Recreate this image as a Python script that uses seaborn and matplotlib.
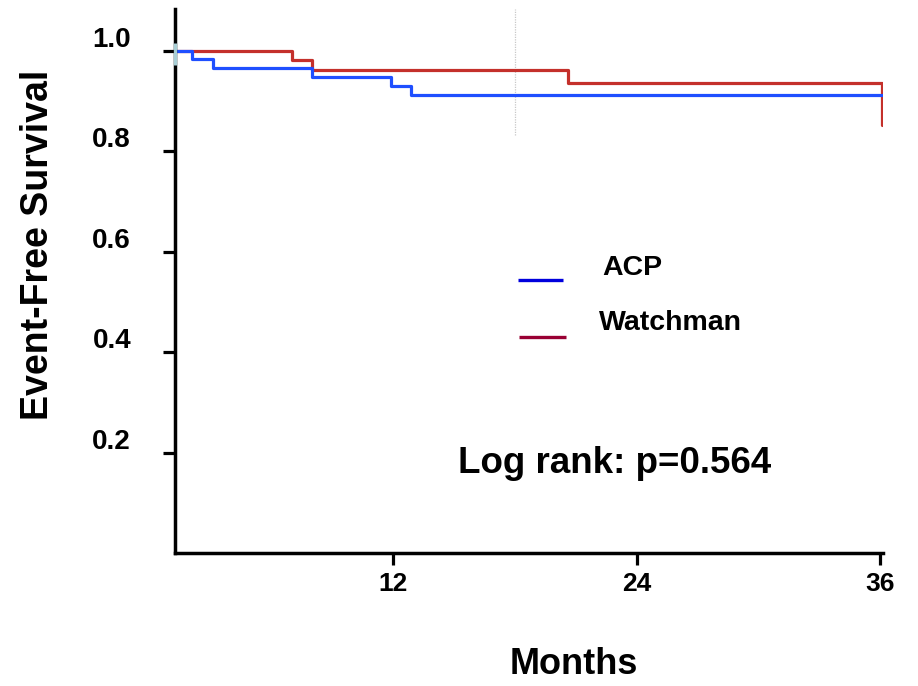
import numpy as np
import pandas as pd
import matplotlib
matplotlib.use("Agg")
import matplotlib.pyplot as plt
from matplotlib.transforms import ScaledTranslation
import seaborn as sns

# ---- data ----
acp_months = [0, 2.1, 3.1, 8.0, 11.9, 12.9, 36.1]
acp_surv = [1.0, 0.983, 0.965, 0.948, 0.930, 0.912, 0.912]
wm_months = [0, 7.0, 8.0, 20.6, 36.1, 36.1]
wm_surv = [1.0, 0.981, 0.961, 0.935, 0.935, 0.852]
groups = ["ACP", "Watchman"]
x_ticks = [12, 24, 36]
x_tick_labels = ["12", "24", "36"]
y_ticks = [0.2, 0.4, 0.6, 0.8, 1.0]
y_tick_labels = ["0.2", "0.4", "0.6", "0.8", "1.0"]
ref_month = 18
p_text = "Log rank: p=0.564"

df = pd.concat([
    pd.DataFrame({"month": acp_months, "survival": acp_surv, "group": "ACP"}),
    pd.DataFrame({"month": wm_months, "survival": wm_surv, "group": "Watchman"}),
], ignore_index=True)

sns.set_style("ticks")
plt.rcParams["font.family"] = ["Liberation Sans", "DejaVu Sans"]
plt.rcParams["font.weight"] = "bold"
plt.rcParams["text.color"] = "black"
plt.rcParams["axes.labelcolor"] = "black"
plt.rcParams["xtick.color"] = "black"
plt.rcParams["ytick.color"] = "black"
plt.rcParams["xtick.labelcolor"] = "black"
plt.rcParams["ytick.labelcolor"] = "black"

W, H = 918, 686
fig = plt.figure(figsize=(W / 100, H / 100), dpi=100)
ax = fig.add_axes([175 / W, 1 - 553 / H, (883 - 175) / W, (553 - 9) / H])

colors = {"ACP": "#1f4fff", "Watchman": "#c4302b"}
sns.lineplot(data=df, x="month", y="survival", hue="group",
             hue_order=["Watchman", "ACP"], palette=colors,
             drawstyle="steps-post", estimator=None, sort=False,
             legend=False, linewidth=2.3, ax=ax)

xmin, xmax = 1.25, 36.15
ymin, ymax = 0.0, 1.083
ax.set_xlim(xmin, xmax)
ax.set_ylim(ymin, ymax)

# faint reference line
ax.axvline(ref_month, ymin=0.832 / ymax, ymax=1.0, color="#c8c8c8",
           linestyle=(0, (1, 1)), linewidth=0.9, zorder=0)

# start marker
ax.plot([xmin, xmin], [0.972, 1.016], color="#a9cfd6", linewidth=2.4,
        solid_capstyle="butt", clip_on=False, zorder=5)

for s in ["top", "right"]:
    ax.spines[s].set_visible(False)
for s in ["left", "bottom"]:
    ax.spines[s].set_linewidth(2.5)
    ax.spines[s].set_color("black")

ax.set_xticks(x_ticks)
ax.set_xticklabels(x_tick_labels)
ax.set_yticks(y_ticks)
ax.set_yticklabels(y_tick_labels)
ax.tick_params(axis="both", direction="out", length=8.6, width=2.3, color="black",
               labelcolor="black")
ax.tick_params(axis="x", labelsize=19, pad=5)
ax.tick_params(axis="y", labelsize=20, pad=23)
for lab in ax.get_xticklabels() + ax.get_yticklabels():
    lab.set_fontweight("bold")
off = ScaledTranslation(0, 14 / 100, fig.dpi_scale_trans)
for lab in ax.get_yticklabels():
    lab.set_transform(lab.get_transform() + off)

ax.set_xlabel("Months", fontsize=26, fontweight="bold", va="center", color="black")
ax.xaxis.set_label_coords((574 - 175) / 708, (553 - 665) / 544)
ax.set_ylabel("Event-Free Survival", fontsize=27, fontweight="bold", va="center",
              color="black")
ax.yaxis.set_label_coords((38 - 175) / 708, (553 - 245) / 544)

ax.text((458 - 175) / 708, (553 - 473) / 544, p_text, transform=ax.transAxes,
        fontsize=26.5, fontweight="bold", ha="left", va="baseline", color="black")

# legend
leg_colors = {"ACP": "#0000dd", "Watchman": "#990033"}
leg_rows = {"ACP": ((518, 563), 280, 602, 268), "Watchman": ((519, 566), 337, 599, 323)}
for g in groups:
    (lx0, lx1), ly, tx, ty = leg_rows[g]
    ax.plot([(lx0 - 175) / 708, (lx1 - 175) / 708], [(553 - ly) / 544] * 2,
            transform=ax.transAxes, color=leg_colors[g], linewidth=2.4,
            solid_capstyle="butt", clip_on=False)
    ax.text((tx - 175) / 708, (553 - ty) / 544, g, transform=ax.transAxes,
            fontsize=20.5, fontweight="bold", ha="left", va="center", color="black")

fig.savefig("out.png", dpi=100)
